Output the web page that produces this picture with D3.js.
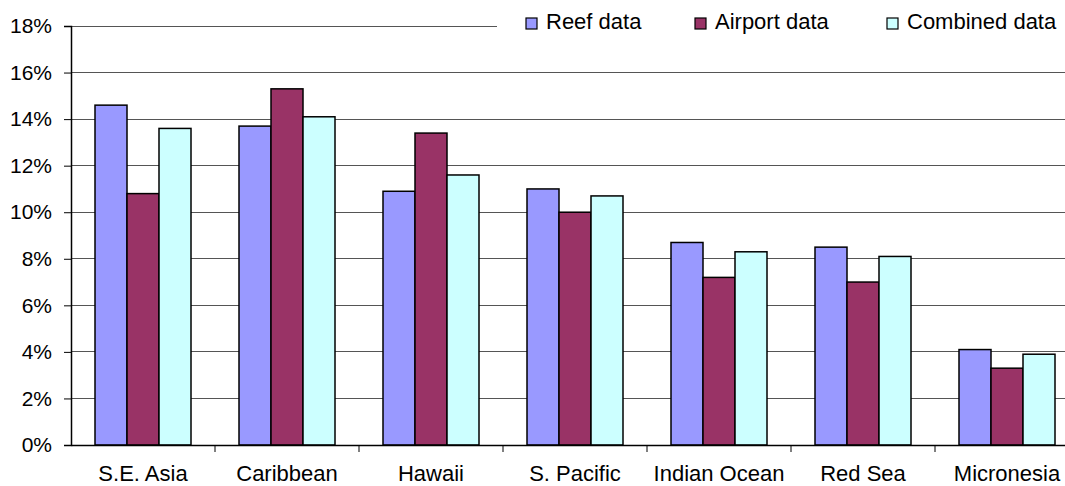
<!DOCTYPE html>
<html><head><meta charset="utf-8">
<script src="https://cdn.jsdelivr.net/npm/d3@7"></script>
<style>body{margin:0;background:#fff}svg{display:block}text{font-family:"Liberation Sans",Arial,sans-serif;fill:#000}</style>
</head><body><svg id="c" width="1065" height="486"></svg>
<script>
const categories = ["S.E. Asia","Caribbean","Hawaii","S. Pacific","Indian Ocean","Red Sea","Micronesia"];
const seriesNames = ["Reef data","Airport data","Combined data"];
const reef = [14.6, 13.7, 10.9, 11.0, 8.7, 8.5, 4.1];
const airport = [10.8, 15.3, 13.4, 10.0, 7.2, 7.0, 3.3];
const combined = [13.6, 14.1, 11.6, 10.7, 8.3, 8.1, 3.9];
const colors = ["#9999ff","#993366","#ccffff"];
const yTicks = [0,2,4,6,8,10,12,14,16,18];

(function(){
const svg = d3.select("#c");
const pl = 71, pr = 71 + 7*144, pt = 26, pb = 445;
const x = d3.scaleBand().domain(categories).range([pl, pr]);
const bw = x.bandwidth();
const x1 = d3.scaleBand().domain(seriesNames).range([bw*0.75/4.5, bw - bw*0.75/4.5]);
const y = d3.scaleLinear().domain([0,18]).range([pb, pt]);

svg.append("g").selectAll("line").data(yTicks.filter(d=>d>0)).join("line")
  .attr("x1", pl).attr("x2", pr).attr("y1", d=>y(d)).attr("y2", d=>y(d))
  .attr("stroke", "#555").attr("stroke-width", 1).attr("shape-rendering","crispEdges");

const data = [reef, airport, combined];
const g = svg.append("g");
categories.forEach((c, i) => {
  seriesNames.forEach((s, j) => {
    const v = data[j][i];
    g.append("rect")
      .attr("x", x(c) + x1(s)).attr("y", y(v))
      .attr("width", x1.bandwidth()).attr("height", y(0) - y(v))
      .attr("fill", colors[j]).attr("stroke", "#000").attr("stroke-width", 1.5);
  });
});

const yAxis = d3.axisLeft(y).tickValues(yTicks).tickFormat(d => d + "%").tickSize(7).tickPadding(12);
const ya = svg.append("g").attr("transform", `translate(${pl},0)`).call(yAxis);
ya.select(".domain").attr("stroke","#000").attr("stroke-width",1.5);
ya.selectAll(".tick line").attr("stroke","#000");
ya.selectAll("text").style("font-size","21px").attr("fill","#000");

const xAxis = d3.axisBottom(x).tickSize(0).tickPadding(20);
const xa = svg.append("g").attr("transform", `translate(0,${pb})`).call(xAxis);
xa.select(".domain").attr("stroke","#000").attr("stroke-width",1.5);
xa.selectAll("text").style("font-size","22px").attr("fill","#000");
xa.selectAll(".sep").data(categories.slice(1)).join("line").attr("class","sep")
  .attr("x1", d=>x(d)).attr("x2", d=>x(d)).attr("y1",0).attr("y2",7).attr("stroke","#000");

svg.append("rect").attr("x",497).attr("y",0).attr("width",570).attr("height",38).attr("fill","#fff");
const legX = [526, 695, 887];
seriesNames.forEach((s, j) => {
  svg.append("rect").attr("x", legX[j]).attr("y", 18).attr("width", 11).attr("height", 11)
    .attr("fill", colors[j]).attr("stroke","#000").attr("stroke-width",1.2);
  svg.append("text").attr("x", legX[j] + 20).attr("y", 29).style("font-size","22px").text(s);
});
})();
</script></body></html>
